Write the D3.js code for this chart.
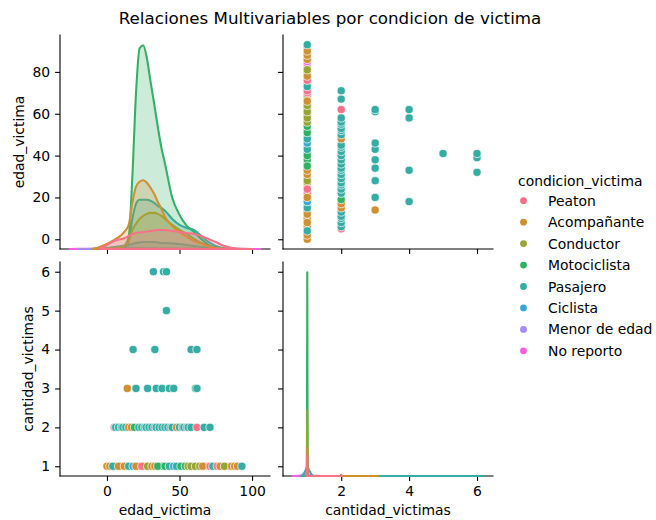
<!DOCTYPE html>
<html>
<head>
<meta charset="utf-8">
<script src="https://cdn.jsdelivr.net/npm/d3@7"></script>
<style>
  body { margin: 0; background: #fff; }
  text { font-family: "DejaVu Sans", sans-serif; fill: #000; }
</style>
</head>
<body>
<svg id="chart" width="656" height="520"></svg>
<script>
// ---- categories and palette ----
const condiciones = ["Peaton", "Acompañante", "Conductor", "Motociclista", "Pasajero", "Ciclista", "Menor de edad", "No reporto"];
const colores = ["#f77189", "#ce9032", "#97a431", "#32b166", "#36ada4", "#39a7d0", "#a48cf4", "#f561dd"];

// ---- victims: [edad_victima, condicion_victima], grouped by cantidad_victimas ----
const victimasUna = [
  [1, "Acompañante"], [3, "Acompañante"], [5, "Pasajero"], [6, "Acompañante"], [9, "Pasajero"], [10, "Acompañante"],
  [13, "Pasajero"], [16, "Ciclista"], [19, "Acompañante"], [22, "Peaton"], [25, "Acompañante"], [27, "Conductor"],
  [29, "Acompañante"], [32, "Motociclista"], [34, "Acompañante"], [36, "Motociclista"], [38, "Motociclista"],
  [41, "Pasajero"], [44, "Ciclista"], [47, "Pasajero"], [49, "Motociclista"], [52, "Motociclista"], [55, "Conductor"],
  [57, "Peaton"], [59, "Conductor"], [60, "Conductor"], [62, "Conductor"], [63, "Pasajero"], [65, "Acompañante"],
  [67, "Peaton"], [68, "Conductor"], [69, "Conductor"], [70, "Peaton"], [72, "Pasajero"], [74, "Peaton"],
  [75, "Acompañante"], [77, "Peaton"], [79, "Conductor"], [80, "Acompañante"], [82, "Ciclista"], [83, "Menor de edad"],
  [84, "Peaton"], [85, "No reporto"], [87, "Acompañante"], [89, "Acompañante"], [91, "Acompañante"], [92, "Pasajero"],
  [0, "Acompañante"], [2, "Acompañante"], [4, "Pasajero"], [8, "Acompañante"], [12, "Acompañante"], [15, "Pasajero"],
  [18, "Ciclista"], [20, "Acompañante"], [24, "Peaton"], [28, "Conductor"], [31, "Acompañante"], [33, "Acompañante"],
  [35, "Motociclista"], [40, "Motociclista"], [43, "Pasajero"], [46, "Ciclista"], [48, "Pasajero"], [51, "Motociclista"],
  [54, "Motociclista"], [56, "Conductor"], [58, "Conductor"], [61, "Conductor"], [64, "Conductor"], [66, "Acompañante"],
  [71, "Peaton"], [73, "Pasajero"], [76, "Peaton"], [78, "Acompañante"], [81, "Conductor"], [86, "Acompañante"],
  [88, "Acompañante"], [90, "Acompañante"], [93, "Pasajero"]
];
const victimasDos = [
  [5, "Peaton"], [6, "Pasajero"], [8, "Pasajero"], [10, "Pasajero"], [11, "Pasajero"], [13, "Pasajero"],
  [15, "Acompañante"], [17, "Acompañante"], [19, "Motociclista"], [22, "Pasajero"], [24, "Pasajero"], [26, "Pasajero"],
  [27, "Pasajero"], [29, "Pasajero"], [31, "Pasajero"], [33, "Pasajero"], [34, "Pasajero"], [36, "Pasajero"],
  [38, "Pasajero"], [40, "Pasajero"], [42, "Pasajero"], [44, "Pasajero"], [45, "Pasajero"], [48, "Acompañante"],
  [50, "Pasajero"], [52, "Pasajero"], [53, "Pasajero"], [55, "Pasajero"], [56, "Pasajero"], [58, "Pasajero"],
  [62, "Peaton"], [67, "Pasajero"], [71, "Pasajero"]
];
const victimasTres = [
  [14, "Acompañante"], [20, "Pasajero"], [28, "Pasajero"], [34, "Pasajero"], [38, "Pasajero"],
  [43, "Pasajero"], [46, "Pasajero"], [61, "Pasajero"], [62, "Pasajero"]
];
const victimasCuatro = [[18, "Pasajero"], [33, "Pasajero"], [58, "Pasajero"], [62, "Pasajero"]];
const victimasCinco = [[41, "Pasajero"]];
const victimasSeis = [[32, "Pasajero"], [39, "Pasajero"], [41, "Pasajero"]];

// ---- kernel density estimates (density x 1e-4) on edad_victima ----
const gridEdad = [-25.8, -20, -10, -5, 0, 5, 10, 12.5, 15, 17.5, 20, 22.5, 25, 27.5, 30, 32.5, 35, 37.5, 40, 45, 50, 55, 60, 65, 70, 75, 80, 85, 90, 95, 100, 105.8];
const kdeEdadPeaton = [null, null, null, 0, 4, 8, 10, 11, 13, 15, 16, 16.5, 17, 17.5, 18, 18.5, 19, 19, 19, 18, 17, 16, 15, 13, 10, 7, 3.5, 1.5, 0.5, 0.1, 0, null];
const kdeEdadAcompanante = [null, null, 0, 2, 5, 9, 14, 18, 24, 46, 62, 67, 68.5, 66, 61, 55, 47, 40, 32, 23, 17, 12, 8, 5.5, 2.5, 0.8, 0.2, 0, 0, 0, 0, null];
const kdeEdadConductor = [null, null, null, 0, 0.5, 1, 2, 4, 8, 19, 25, 30, 33, 35, 36, 36, 35, 33, 30, 24, 19, 15, 10, 6, 3, 1, 0.3, 0, 0, 0, null, null];
const kdeEdadMotociclista = [null, null, null, null, 0, 0.3, 1, 4, 12, 72, 155, 200, 203, 190, 167, 145, 122, 101, 85, 51, 34, 23, 17, 10, 4, 1.5, 0.5, 0.1, 0, 0, null, null];
const kdeEdadPasajero = [null, null, null, 0, 0.3, 0.7, 1, 2, 8, 30, 45, 49, 49, 49, 48, 46, 43, 41, 38, 30, 24, 21, 19, 13, 7, 3, 1, 0.3, 0.1, 0, 0, null];
const kdeEdadCiclista = [null, null, 0, 0.3, 1, 2, 3, 3.5, 4, 5, 6, 6.5, 7, 7, 7, 7, 6.5, 6, 6, 5.5, 5, 4, 3, 2, 1, 0.5, 0.2, 0, 0, 0, null, null];
const kdeEdadMenor = [null, 0, 0.3, 0.6, 1, 1.2, 1.2, 1.1, 1, 0.9, 0.8, 0.7, 0.6, 0.5, 0.5, 0.4, 0.3, 0.25, 0.2, 0.1, 0.05, 0, null, null, null, null, null, null, null, null, null, null];
const kdeEdadNoReporto = [0, 0.1, 0.3, 0.4, 0.5, 0.5, 0.5, 0.5, 0.5, 0.5, 0.5, 0.5, 0.5, 0.5, 0.5, 0.5, 0.5, 0.5, 0.5, 0.5, 0.45, 0.4, 0.35, 0.3, 0.25, 0.2, 0.15, 0.1, 0.05, 0.02, 0.01, 0];

// ---- kernel density estimates on cantidad_victimas ----
const gridCant = [0.566, 0.7, 0.82, 0.86, 0.9, 0.94, 0.97, 0.98, 0.99, 1.0, 1.01, 1.02, 1.03, 1.06, 1.1, 1.14, 1.18, 1.43, 1.98, 2.0, 2.02, 3.09, 6.18, 6.19];
const kdeCantPeaton = [null, null, null, null, null, null, null, 0, 6, 21, 6, 0, 0, 0, 0, 0, 0, 0, 0, 0.5, 0, null, null, null];
const kdeCantAcompanante = [null, null, null, null, null, null, 0, 1, 6, 29, 6, 1, 0, 0, 0, 0, 0, 0, 0, 0.8, 0, 0, null, null];
const kdeCantConductor = [null, null, null, null, null, null, null, 0, 8, 66, 8, 0, 0, 0, 0, 0, 0, 0, 0, 0.3, 0, null, null, null];
const kdeCantMotociclista = [null, null, null, null, null, null, null, 0, 25, 205, 25, 0, 0, 0, 0, 0, 0, 0, 0, 0.5, 0, null, null, null];
const kdeCantPasajero = [null, null, 0, 1, 2.5, 5, 7.5, 8, 8.5, 9, 8.5, 8, 7.5, 5.5, 3, 1, 0, 0, 0, 1, 0, 0, 0, null];
const kdeCantCiclista = [null, null, null, null, null, null, 0, 0.5, 2, 4, 2, 0.5, 0, 0, 0, 0, 0, 0, 0, 0.2, 0, null, null, null];
const kdeCantMenor = [null, null, 0, 0.3, 0.6, 0.8, 0.9, 0.9, 0.9, 0.9, 0.9, 0.9, 0.9, 0.8, 0.6, 0.3, 0, null, null, null, null, null, null, null];
const kdeCantNoReporto = [0, 0.3, 0.5, 0.5, 0.5, 0.5, 0.5, 0.5, 0.5, 0.5, 0.5, 0.5, 0.5, 0.5, 0.5, 0.5, 0.4, 0, null, null, null, null, null, null];

// ---- tick values ----
const ticksEdad = [0, 20, 40, 60, 80];
const ticksEdadX = [0, 50, 100];
const ticksCant = [1, 2, 3, 4, 5, 6];
const ticksCantX = [2, 4, 6];

// ---- assemble ----
const victimas = [];
[[1, victimasUna], [2, victimasDos], [3, victimasTres], [4, victimasCuatro], [5, victimasCinco], [6, victimasSeis]]
  .forEach(([cant, lista]) => lista.forEach(([edad, cond]) => victimas.push({ edad, cant, cond })));

const kdeEdad = [kdeEdadPeaton, kdeEdadAcompanante, kdeEdadConductor, kdeEdadMotociclista, kdeEdadPasajero, kdeEdadCiclista, kdeEdadMenor, kdeEdadNoReporto];
const kdeCant = [kdeCantPeaton, kdeCantAcompanante, kdeCantConductor, kdeCantMotociclista, kdeCantPasajero, kdeCantCiclista, kdeCantMenor, kdeCantNoReporto];

const color = d3.scaleOrdinal().domain(condiciones).range(colores);

// ---- layout ----
const col = [[60, 270], [283, 493]];
const row = [[35, 249], [262, 476]];
const FS = 13.9;       // 10pt
const TICK = 4.9;      // 3.5pt

function padded(lo, hi) { const m = (hi - lo) * 0.05; return [lo - m, hi + m]; }

const edadExt = d3.extent(victimas, d => d.edad);
const cantExt = d3.extent(victimas, d => d.cant);
const xEdad = d3.scaleLinear().domain(padded(Math.min(edadExt[0], gridEdad[0]), Math.max(edadExt[1], gridEdad[gridEdad.length - 1]))).range(col[0]);
const xCant = d3.scaleLinear().domain(padded(Math.min(cantExt[0], gridCant[0]), Math.max(cantExt[1], gridCant[gridCant.length - 1]))).range(col[1]);
const yEdad = d3.scaleLinear().domain(padded(edadExt[0], edadExt[1])).range([row[0][1], row[0][0]]);
const yCant = d3.scaleLinear().domain(padded(cantExt[0], cantExt[1])).range([row[1][1], row[1][0]]);

const maxKdeEdad = d3.max(kdeEdad.flat().filter(v => v != null));
const maxKdeCant = d3.max(kdeCant.flat().filter(v => v != null));
const yKdeEdad = d3.scaleLinear().domain([0, maxKdeEdad * 1.05]).range([row[0][1], row[0][0]]);
const yKdeCant = d3.scaleLinear().domain([0, maxKdeCant * 1.05]).range([row[1][1], row[1][0]]);

const svg = d3.select("#chart");

// ---- title ----
svg.append("text").attr("x", 330).attr("y", 24).attr("text-anchor", "middle")
  .attr("font-size", 16.7).text("Relaciones Multivariables por condicion de victima");

// ---- axes helpers ----
function axisStyle(g) {
  g.select(".domain").remove();
  g.selectAll(".tick line").attr("stroke", "#000").attr("stroke-width", 1.1);
  g.selectAll(".tick text").attr("font-size", FS).attr("font-family", "DejaVu Sans, sans-serif").attr("fill", "#000");
}
function leftAxis(scale, ticks, x, labels) {
  const g = svg.append("g").attr("transform", `translate(${x},0)`)
    .call(d3.axisLeft(scale).tickValues(ticks).tickSize(TICK).tickPadding(TICK)
      .tickFormat(labels ? d3.format("d") : () => ""));
  axisStyle(g);
}
function bottomAxis(scale, ticks, y, labels) {
  const g = svg.append("g").attr("transform", `translate(0,${y})`)
    .call(d3.axisBottom(scale).tickValues(ticks).tickSize(TICK).tickPadding(TICK)
      .tickFormat(labels ? d3.format("d") : () => ""));
  axisStyle(g);
  g.selectAll(".tick text").attr("dy", "0.72em");
}
function spines(c, r) {
  svg.append("line").attr("x1", col[c][0]).attr("x2", col[c][0]).attr("y1", row[r][0]).attr("y2", row[r][1])
    .attr("stroke", "#000").attr("stroke-width", 1.1).attr("stroke-linecap", "square");
  svg.append("line").attr("x1", col[c][0]).attr("x2", col[c][1]).attr("y1", row[r][1]).attr("y2", row[r][1])
    .attr("stroke", "#000").attr("stroke-width", 1.1).attr("stroke-linecap", "square");
}

// ---- scatter panels ----
function scatter(xAcc, yAcc) {
  svg.append("g").selectAll("circle").data(victimas).join("circle")
    .attr("cx", xAcc).attr("cy", yAcc).attr("r", 4.1)
    .attr("fill", d => color(d.cond)).attr("stroke", "#fff").attr("stroke-width", 0.7);
}
scatter(d => xCant(d.cant), d => yEdad(d.edad));   // top right
scatter(d => xEdad(d.edad), d => yCant(d.cant));   // bottom left

// ---- axes for all panels ----
leftAxis(yEdad, ticksEdad, col[0][0], true);
bottomAxis(xEdad, ticksEdadX, row[0][1], false);
leftAxis(yEdad, ticksEdad, col[1][0], false);
bottomAxis(xCant, ticksCantX, row[0][1], false);
leftAxis(yCant, ticksCant, col[0][0], true);
bottomAxis(xEdad, ticksEdadX, row[1][1], true);
leftAxis(yCant, ticksCant, col[1][0], false);
bottomAxis(xCant, ticksCantX, row[1][1], true);
for (let r = 0; r < 2; r++) for (let c = 0; c < 2; c++) spines(c, r);

// ---- diagonal density panels ----
const defs = svg.append("defs");
function clipFor(id, c, r) {
  defs.append("clipPath").attr("id", id).append("rect")
    .attr("x", col[c][0]).attr("y", row[r][0] - 2)
    .attr("width", col[c][1] - col[c][0]).attr("height", row[r][1] - row[r][0] + 3.1);
}
clipFor("clipEdad", 0, 0);
clipFor("clipCant", 1, 1);

function densities(grid, series, xs, ys, clipId, curve) {
  const g = svg.append("g").attr("clip-path", `url(#${clipId})`);
  const area = d3.area().x(d => xs(d[0])).y0(ys(0)).y1(d => ys(d[1])).curve(curve);
  // last category drawn first so the first one sits on top
  for (let i = series.length - 1; i >= 0; i--) {
    const pts = grid.map((x, j) => [x, series[i][j]]).filter(p => p[1] != null);
    g.append("path").attr("d", area(pts))
      .attr("fill", colores[i]).attr("fill-opacity", 0.25)
      .attr("stroke", colores[i]).attr("stroke-width", 2.08).attr("stroke-linejoin", "round");
  }
}
densities(gridEdad, kdeEdad, xEdad, yKdeEdad, "clipEdad", d3.curveMonotoneX);
densities(gridCant, kdeCant, xCant, yKdeCant, "clipCant", d3.curveLinear);

// ---- axis labels ----
svg.append("text").attr("transform", "translate(23.5,142) rotate(-90)").attr("text-anchor", "middle")
  .attr("font-size", FS).text("edad_victima");
svg.append("text").attr("transform", "translate(32.5,369) rotate(-90)").attr("text-anchor", "middle")
  .attr("font-size", FS).text("cantidad_victimas");
svg.append("text").attr("x", (col[0][0] + col[0][1]) / 2).attr("y", 515).attr("text-anchor", "middle")
  .attr("font-size", FS).text("edad_victima");
svg.append("text").attr("x", (col[1][0] + col[1][1]) / 2).attr("y", 515).attr("text-anchor", "middle")
  .attr("font-size", FS).text("cantidad_victimas");

// ---- legend ----
const leg = svg.append("g");
leg.append("text").attr("x", 518).attr("y", 185.5).attr("font-size", FS).text("condicion_victima");
condiciones.forEach((c, i) => {
  const y = 200.7 + i * 21.45;
  leg.append("circle").attr("cx", 523.5).attr("cy", y).attr("r", 3.4).attr("fill", colores[i]);
  leg.append("text").attr("x", 548).attr("y", y + 5).attr("font-size", FS).text(c);
});
</script>
</body>
</html>
